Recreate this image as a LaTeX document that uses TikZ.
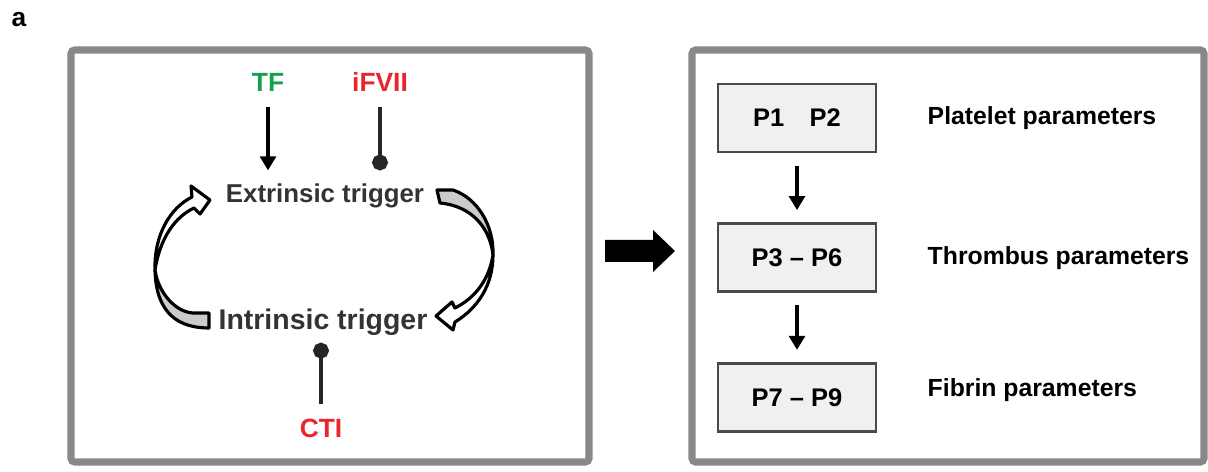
\documentclass[tikz,border=0pt]{standalone}
\usepackage{fontspec}
\setmainfont{Liberation Sans}
\usetikzlibrary{arrows.meta, positioning}
\definecolor{tfGreen}{HTML}{17A04B}
\definecolor{inhRed}{HTML}{E8262B}
\definecolor{panelGray}{HTML}{888888}
\definecolor{boxGray}{HTML}{F0F0F0}
\definecolor{boxEdge}{HTML}{4A4A4A}
\definecolor{textDark}{HTML}{333333}
\definecolor{ribbonGray}{HTML}{CBCBCB}
\tikzset{
  panel/.style={draw=panelGray, line width=4pt, rounded corners=2pt},
  actArrow/.style={-{Triangle[length=8pt, width=9pt]}, line width=2.6pt},
  inhArrow/.style={-{Circle[length=9pt]}, line width=2.6pt, draw=black!85, fill=black!85},
  ribbon/.style={draw=black, line width=1.8pt, line join=round},
  factor/.style={inner sep=0pt, font=\bfseries\fontsize{15}{18}\selectfont},
  trig/.style={inner sep=0pt, text=textDark},
  parBox/.style={rectangle, draw=boxEdge, fill=boxGray, line width=1.6pt,
                 minimum width=3.16cm, minimum height=1.36cm,
                 font=\bfseries\fontsize{14.5}{17}\selectfont},
  parLabel/.style={inner sep=0pt, font=\bfseries\fontsize{14.1}{17}\selectfont},
}
\begin{document}
\begin{tikzpicture}[x=0.02cm, y=-0.02cm, node distance=1.38cm]
  \useasboundingbox (0,0) rectangle (1208,472);
  \node[inner sep=0pt, font=\bfseries\fontsize{15}{18}\selectfont] (lbl) at (19,20) {a};

  \draw[panel] (71,50) rectangle (589,462);
  \draw[panel] (692,50) rectangle (1204,462);

  \node[factor, text=tfGreen] (tf) at (268,82) {TF};
  \node[factor, text=inhRed] (ifvii) at (380,82) {iFVII};
  \node[trig, font=\bfseries\fontsize{14.7}{17}\selectfont] (ext) at (325,196) {Extrinsic trigger};
  \node[trig, font=\bfseries\fontsize{16.2}{19}\selectfont] (int) at (323,322) {Intrinsic trigger};
  \node[factor, text=inhRed] (cti) at (321,428) {CTI};

  \draw[actArrow, shorten <=8.8pt, shorten >=7.5pt] (tf) -- (tf |- ext.north);
  \draw[inhArrow, shorten <=8.8pt, shorten >=7.5pt] (ifvii) -- (ifvii |- ext.north);
  \draw[inhArrow, shorten <=8pt, shorten >=4pt] (cti) -- (cti |- int.south);

  \filldraw[ribbon, fill=ribbonGray] (209,313) -- (209,328)
    .. controls (180,328) and (156,315) .. (155,270)
    .. controls (158,292) and (175,312) .. (193,313) -- cycle;
  \filldraw[ribbon, fill=white] (155,270)
    .. controls (154,235) and (170,208) .. (192,197) -- (191,186) -- (210,200)
    -- (200,214) -- (194,208) .. controls (175,217) and (160,238) .. (155,270) -- cycle;
  \filldraw[ribbon, fill=ribbonGray] (437,190) -- (453,190)
    .. controls (477,198) and (494,225) .. (493,255)
    .. controls (490,228) and (472,206) .. (440,203) -- cycle;
  \filldraw[ribbon, fill=white] (493,255)
    .. controls (493,285) and (478,308) .. (455,322) -- (453,330) -- (436,316)
    -- (452,302) -- (455,308) .. controls (475,298) and (489,280) .. (493,255) -- cycle;

  \fill (605,240) -- (653,240) -- (653,230) -- (675,251) -- (653,272) -- (653,262) -- (605,262) -- cycle;

  \node[parBox] (p12) at (797,118) {P1\hspace{1em}P2};
  \node[parBox, below=of p12] (p36) {P3 -- P6};
  \node[parBox, below=of p36] (p79) {P7 -- P9};
  \node[parLabel, right=1cm of p12] (plt) {Platelet parameters};
  \node[parLabel, right=1cm of p36] (thr) {Thrombus parameters};
  \node[parLabel, right=1cm of p79, yshift=0.14cm] (fib) {Fibrin parameters};

  \draw[actArrow, shorten <=7pt, shorten >=7pt] (p12) -- (p36);
  \draw[actArrow, shorten <=7pt, shorten >=7pt] (p36) -- (p79);
\end{tikzpicture}
\end{document}
